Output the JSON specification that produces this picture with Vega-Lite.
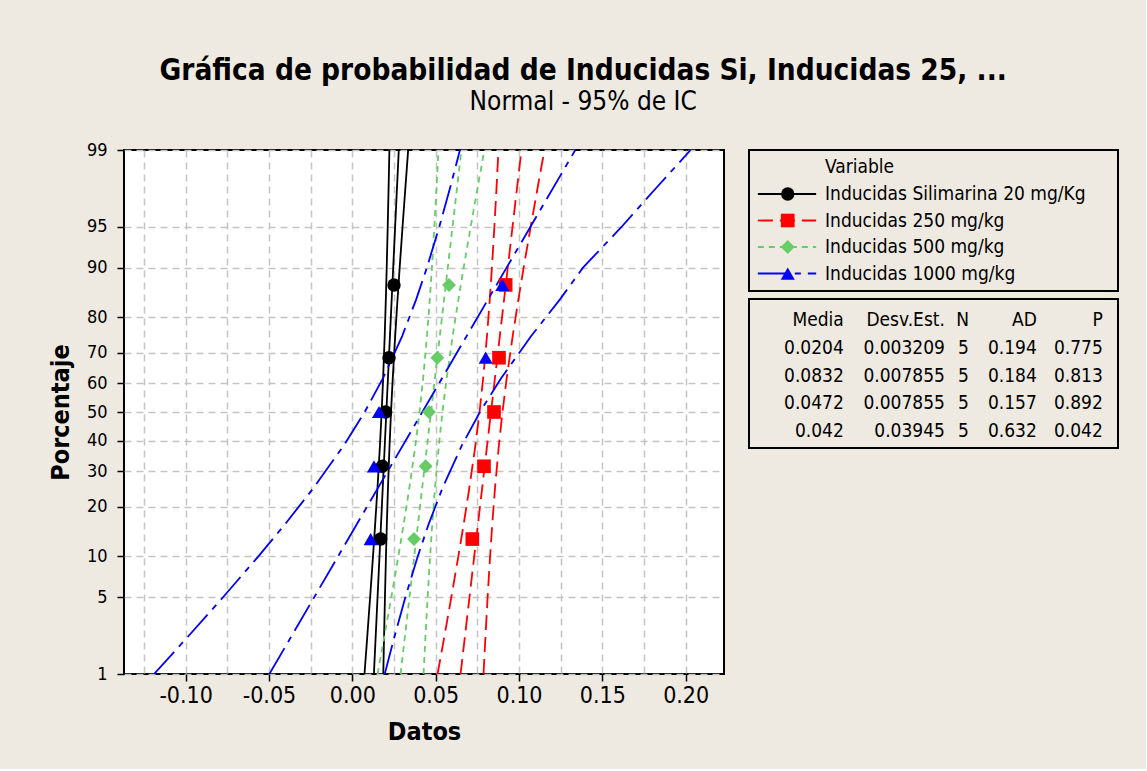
{
  "$schema": "https://vega.github.io/schema/vega-lite/v6.json",
  "background": "#EEEAE1",
  "padding": {"left": 47, "top": 55, "right": 27, "bottom": 24},
  "bounds": "flush",
  "title": {
    "text": "Gráfica de probabilidad de Inducidas Si, Inducidas 25, ...",
    "subtitle": "Normal - 95% de IC",
    "anchor": "middle",
    "frame": "bounds",
    "font": "DejaVu Sans Condensed",
    "fontSize": 29.5,
    "fontWeight": "bold",
    "color": "black",
    "subtitleFont": "DejaVu Sans Condensed",
    "subtitleFontSize": 26,
    "subtitleColor": "black",
    "subtitlePadding": 3,
    "offset": 24
  },
  "datasets": {
    "points": [
      {"series": "Inducidas Silimarina 20 mg/Kg", "z": -1.1281, "x": 0.017},
      {"series": "Inducidas Silimarina 20 mg/Kg", "z": -0.4819, "x": 0.018},
      {"series": "Inducidas Silimarina 20 mg/Kg", "z": 0, "x": 0.020},
      {"series": "Inducidas Silimarina 20 mg/Kg", "z": 0.4819, "x": 0.022},
      {"series": "Inducidas Silimarina 20 mg/Kg", "z": 1.1281, "x": 0.025},
      {"series": "Inducidas 250 mg/kg", "z": -1.1281, "x": 0.072},
      {"series": "Inducidas 250 mg/kg", "z": -0.4819, "x": 0.079},
      {"series": "Inducidas 250 mg/kg", "z": 0, "x": 0.085},
      {"series": "Inducidas 250 mg/kg", "z": 0.4819, "x": 0.088},
      {"series": "Inducidas 250 mg/kg", "z": 1.1281, "x": 0.092},
      {"series": "Inducidas 500 mg/kg", "z": -1.1281, "x": 0.037},
      {"series": "Inducidas 500 mg/kg", "z": -0.4819, "x": 0.044},
      {"series": "Inducidas 500 mg/kg", "z": 0, "x": 0.046},
      {"series": "Inducidas 500 mg/kg", "z": 0.4819, "x": 0.051},
      {"series": "Inducidas 500 mg/kg", "z": 1.1281, "x": 0.058},
      {"series": "Inducidas 1000 mg/kg", "z": -1.1281, "x": 0.011},
      {"series": "Inducidas 1000 mg/kg", "z": -0.4819, "x": 0.013},
      {"series": "Inducidas 1000 mg/kg", "z": 0, "x": 0.016},
      {"series": "Inducidas 1000 mg/kg", "z": 0.4819, "x": 0.080},
      {"series": "Inducidas 1000 mg/kg", "z": 1.1281, "x": 0.090}
    ],
    "lines": [
      {"series": "Inducidas Silimarina 20 mg/Kg", "bound": "fit", "z": -2.3263, "x": 0.01294},
      {"series": "Inducidas Silimarina 20 mg/Kg", "bound": "fit", "z": 2.3263, "x": 0.02787},
      {"series": "Inducidas Silimarina 20 mg/Kg", "bound": "lower", "z": -2.3263, "x": 0.00730},
      {"series": "Inducidas Silimarina 20 mg/Kg", "bound": "lower", "z": -2, "x": 0.00893},
      {"series": "Inducidas Silimarina 20 mg/Kg", "bound": "lower", "z": -1.6449, "x": 0.01067},
      {"series": "Inducidas Silimarina 20 mg/Kg", "bound": "lower", "z": -1.2816, "x": 0.01240},
      {"series": "Inducidas Silimarina 20 mg/Kg", "bound": "lower", "z": -1, "x": 0.01368},
      {"series": "Inducidas Silimarina 20 mg/Kg", "bound": "lower", "z": -0.6745, "x": 0.01509},
      {"series": "Inducidas Silimarina 20 mg/Kg", "bound": "lower", "z": -0.3, "x": 0.01656},
      {"series": "Inducidas Silimarina 20 mg/Kg", "bound": "lower", "z": 0, "x": 0.01759},
      {"series": "Inducidas Silimarina 20 mg/Kg", "bound": "lower", "z": 0.3, "x": 0.01848},
      {"series": "Inducidas Silimarina 20 mg/Kg", "bound": "lower", "z": 0.6745, "x": 0.01942},
      {"series": "Inducidas Silimarina 20 mg/Kg", "bound": "lower", "z": 1, "x": 0.02010},
      {"series": "Inducidas Silimarina 20 mg/Kg", "bound": "lower", "z": 1.2816, "x": 0.02062},
      {"series": "Inducidas Silimarina 20 mg/Kg", "bound": "lower", "z": 1.6449, "x": 0.02123},
      {"series": "Inducidas Silimarina 20 mg/Kg", "bound": "lower", "z": 2, "x": 0.02177},
      {"series": "Inducidas Silimarina 20 mg/Kg", "bound": "lower", "z": 2.3263, "x": 0.02224},
      {"series": "Inducidas Silimarina 20 mg/Kg", "bound": "upper", "z": -2.3263, "x": 0.01857},
      {"series": "Inducidas Silimarina 20 mg/Kg", "bound": "upper", "z": -2, "x": 0.01903},
      {"series": "Inducidas Silimarina 20 mg/Kg", "bound": "upper", "z": -1.6449, "x": 0.01957},
      {"series": "Inducidas Silimarina 20 mg/Kg", "bound": "upper", "z": -1.2816, "x": 0.02018},
      {"series": "Inducidas Silimarina 20 mg/Kg", "bound": "upper", "z": -1, "x": 0.02070},
      {"series": "Inducidas Silimarina 20 mg/Kg", "bound": "upper", "z": -0.6745, "x": 0.02138},
      {"series": "Inducidas Silimarina 20 mg/Kg", "bound": "upper", "z": -0.3, "x": 0.02232},
      {"series": "Inducidas Silimarina 20 mg/Kg", "bound": "upper", "z": 0, "x": 0.02321},
      {"series": "Inducidas Silimarina 20 mg/Kg", "bound": "upper", "z": 0.3, "x": 0.02425},
      {"series": "Inducidas Silimarina 20 mg/Kg", "bound": "upper", "z": 0.6745, "x": 0.02571},
      {"series": "Inducidas Silimarina 20 mg/Kg", "bound": "upper", "z": 1, "x": 0.02712},
      {"series": "Inducidas Silimarina 20 mg/Kg", "bound": "upper", "z": 1.2816, "x": 0.02840},
      {"series": "Inducidas Silimarina 20 mg/Kg", "bound": "upper", "z": 1.6449, "x": 0.03013},
      {"series": "Inducidas Silimarina 20 mg/Kg", "bound": "upper", "z": 2, "x": 0.03187},
      {"series": "Inducidas Silimarina 20 mg/Kg", "bound": "upper", "z": 2.3263, "x": 0.03350},
      {"series": "Inducidas 250 mg/kg", "bound": "fit", "z": -2.3263, "x": 0.06493},
      {"series": "Inducidas 250 mg/kg", "bound": "fit", "z": 2.3263, "x": 0.10147},
      {"series": "Inducidas 250 mg/kg", "bound": "lower", "z": -2.3263, "x": 0.05115},
      {"series": "Inducidas 250 mg/kg", "bound": "lower", "z": -2, "x": 0.05513},
      {"series": "Inducidas 250 mg/kg", "bound": "lower", "z": -1.6449, "x": 0.05939},
      {"series": "Inducidas 250 mg/kg", "bound": "lower", "z": -1.2816, "x": 0.06361},
      {"series": "Inducidas 250 mg/kg", "bound": "lower", "z": -1, "x": 0.06676},
      {"series": "Inducidas 250 mg/kg", "bound": "lower", "z": -0.6745, "x": 0.07020},
      {"series": "Inducidas 250 mg/kg", "bound": "lower", "z": -0.3, "x": 0.07379},
      {"series": "Inducidas 250 mg/kg", "bound": "lower", "z": 0, "x": 0.07632},
      {"series": "Inducidas 250 mg/kg", "bound": "lower", "z": 0.3, "x": 0.07850},
      {"series": "Inducidas 250 mg/kg", "bound": "lower", "z": 0.6745, "x": 0.08079},
      {"series": "Inducidas 250 mg/kg", "bound": "lower", "z": 1, "x": 0.08247},
      {"series": "Inducidas 250 mg/kg", "bound": "lower", "z": 1.2816, "x": 0.08375},
      {"series": "Inducidas 250 mg/kg", "bound": "lower", "z": 1.6449, "x": 0.08523},
      {"series": "Inducidas 250 mg/kg", "bound": "lower", "z": 2, "x": 0.08655},
      {"series": "Inducidas 250 mg/kg", "bound": "lower", "z": 2.3263, "x": 0.08769},
      {"series": "Inducidas 250 mg/kg", "bound": "upper", "z": -2.3263, "x": 0.07871},
      {"series": "Inducidas 250 mg/kg", "bound": "upper", "z": -2, "x": 0.07985},
      {"series": "Inducidas 250 mg/kg", "bound": "upper", "z": -1.6449, "x": 0.08117},
      {"series": "Inducidas 250 mg/kg", "bound": "upper", "z": -1.2816, "x": 0.08266},
      {"series": "Inducidas 250 mg/kg", "bound": "upper", "z": -1, "x": 0.08393},
      {"series": "Inducidas 250 mg/kg", "bound": "upper", "z": -0.6745, "x": 0.08561},
      {"series": "Inducidas 250 mg/kg", "bound": "upper", "z": -0.3, "x": 0.08790},
      {"series": "Inducidas 250 mg/kg", "bound": "upper", "z": 0, "x": 0.09009},
      {"series": "Inducidas 250 mg/kg", "bound": "upper", "z": 0.3, "x": 0.09261},
      {"series": "Inducidas 250 mg/kg", "bound": "upper", "z": 0.6745, "x": 0.09621},
      {"series": "Inducidas 250 mg/kg", "bound": "upper", "z": 1, "x": 0.09964},
      {"series": "Inducidas 250 mg/kg", "bound": "upper", "z": 1.2816, "x": 0.10279},
      {"series": "Inducidas 250 mg/kg", "bound": "upper", "z": 1.6449, "x": 0.10701},
      {"series": "Inducidas 250 mg/kg", "bound": "upper", "z": 2, "x": 0.11127},
      {"series": "Inducidas 250 mg/kg", "bound": "upper", "z": 2.3263, "x": 0.11526},
      {"series": "Inducidas 500 mg/kg", "bound": "fit", "z": -2.3263, "x": 0.02893},
      {"series": "Inducidas 500 mg/kg", "bound": "fit", "z": 2.3263, "x": 0.06547},
      {"series": "Inducidas 500 mg/kg", "bound": "lower", "z": -2.3263, "x": 0.01515},
      {"series": "Inducidas 500 mg/kg", "bound": "lower", "z": -2, "x": 0.01913},
      {"series": "Inducidas 500 mg/kg", "bound": "lower", "z": -1.6449, "x": 0.02339},
      {"series": "Inducidas 500 mg/kg", "bound": "lower", "z": -1.2816, "x": 0.02761},
      {"series": "Inducidas 500 mg/kg", "bound": "lower", "z": -1, "x": 0.03076},
      {"series": "Inducidas 500 mg/kg", "bound": "lower", "z": -0.6745, "x": 0.03420},
      {"series": "Inducidas 500 mg/kg", "bound": "lower", "z": -0.3, "x": 0.03779},
      {"series": "Inducidas 500 mg/kg", "bound": "lower", "z": 0, "x": 0.04032},
      {"series": "Inducidas 500 mg/kg", "bound": "lower", "z": 0.3, "x": 0.04250},
      {"series": "Inducidas 500 mg/kg", "bound": "lower", "z": 0.6745, "x": 0.04479},
      {"series": "Inducidas 500 mg/kg", "bound": "lower", "z": 1, "x": 0.04647},
      {"series": "Inducidas 500 mg/kg", "bound": "lower", "z": 1.2816, "x": 0.04775},
      {"series": "Inducidas 500 mg/kg", "bound": "lower", "z": 1.6449, "x": 0.04923},
      {"series": "Inducidas 500 mg/kg", "bound": "lower", "z": 2, "x": 0.05055},
      {"series": "Inducidas 500 mg/kg", "bound": "lower", "z": 2.3263, "x": 0.05169},
      {"series": "Inducidas 500 mg/kg", "bound": "upper", "z": -2.3263, "x": 0.04271},
      {"series": "Inducidas 500 mg/kg", "bound": "upper", "z": -2, "x": 0.04385},
      {"series": "Inducidas 500 mg/kg", "bound": "upper", "z": -1.6449, "x": 0.04517},
      {"series": "Inducidas 500 mg/kg", "bound": "upper", "z": -1.2816, "x": 0.04666},
      {"series": "Inducidas 500 mg/kg", "bound": "upper", "z": -1, "x": 0.04793},
      {"series": "Inducidas 500 mg/kg", "bound": "upper", "z": -0.6745, "x": 0.04961},
      {"series": "Inducidas 500 mg/kg", "bound": "upper", "z": -0.3, "x": 0.05190},
      {"series": "Inducidas 500 mg/kg", "bound": "upper", "z": 0, "x": 0.05409},
      {"series": "Inducidas 500 mg/kg", "bound": "upper", "z": 0.3, "x": 0.05661},
      {"series": "Inducidas 500 mg/kg", "bound": "upper", "z": 0.6745, "x": 0.06021},
      {"series": "Inducidas 500 mg/kg", "bound": "upper", "z": 1, "x": 0.06364},
      {"series": "Inducidas 500 mg/kg", "bound": "upper", "z": 1.2816, "x": 0.06679},
      {"series": "Inducidas 500 mg/kg", "bound": "upper", "z": 1.6449, "x": 0.07101},
      {"series": "Inducidas 500 mg/kg", "bound": "upper", "z": 2, "x": 0.07527},
      {"series": "Inducidas 500 mg/kg", "bound": "upper", "z": 2.3263, "x": 0.07926},
      {"series": "Inducidas 1000 mg/kg", "bound": "fit", "z": -2.3263, "x": -0.04977},
      {"series": "Inducidas 1000 mg/kg", "bound": "fit", "z": 2.3263, "x": 0.13377},
      {"series": "Inducidas 1000 mg/kg", "bound": "lower", "z": -2.3263, "x": -0.11899},
      {"series": "Inducidas 1000 mg/kg", "bound": "lower", "z": -2, "x": -0.09897},
      {"series": "Inducidas 1000 mg/kg", "bound": "lower", "z": -1.6449, "x": -0.07760},
      {"series": "Inducidas 1000 mg/kg", "bound": "lower", "z": -1.2816, "x": -0.05638},
      {"series": "Inducidas 1000 mg/kg", "bound": "lower", "z": -1, "x": -0.04058},
      {"series": "Inducidas 1000 mg/kg", "bound": "lower", "z": -0.6745, "x": -0.02331},
      {"series": "Inducidas 1000 mg/kg", "bound": "lower", "z": -0.3, "x": -0.00527},
      {"series": "Inducidas 1000 mg/kg", "bound": "lower", "z": 0, "x": 0.00742},
      {"series": "Inducidas 1000 mg/kg", "bound": "lower", "z": 0.3, "x": 0.01840},
      {"series": "Inducidas 1000 mg/kg", "bound": "lower", "z": 0.6745, "x": 0.02991},
      {"series": "Inducidas 1000 mg/kg", "bound": "lower", "z": 1, "x": 0.03832},
      {"series": "Inducidas 1000 mg/kg", "bound": "lower", "z": 1.2816, "x": 0.04474},
      {"series": "Inducidas 1000 mg/kg", "bound": "lower", "z": 1.6449, "x": 0.05218},
      {"series": "Inducidas 1000 mg/kg", "bound": "lower", "z": 2, "x": 0.05883},
      {"series": "Inducidas 1000 mg/kg", "bound": "lower", "z": 2.3263, "x": 0.06456},
      {"series": "Inducidas 1000 mg/kg", "bound": "upper", "z": -2.3263, "x": 0.01944},
      {"series": "Inducidas 1000 mg/kg", "bound": "upper", "z": -2, "x": 0.02517},
      {"series": "Inducidas 1000 mg/kg", "bound": "upper", "z": -1.6449, "x": 0.03182},
      {"series": "Inducidas 1000 mg/kg", "bound": "upper", "z": -1.2816, "x": 0.03926},
      {"series": "Inducidas 1000 mg/kg", "bound": "upper", "z": -1, "x": 0.04568},
      {"series": "Inducidas 1000 mg/kg", "bound": "upper", "z": -0.6745, "x": 0.05410},
      {"series": "Inducidas 1000 mg/kg", "bound": "upper", "z": -0.3, "x": 0.06560},
      {"series": "Inducidas 1000 mg/kg", "bound": "upper", "z": 0, "x": 0.07658},
      {"series": "Inducidas 1000 mg/kg", "bound": "upper", "z": 0.3, "x": 0.08927},
      {"series": "Inducidas 1000 mg/kg", "bound": "upper", "z": 0.6745, "x": 0.10731},
      {"series": "Inducidas 1000 mg/kg", "bound": "upper", "z": 1, "x": 0.12458},
      {"series": "Inducidas 1000 mg/kg", "bound": "upper", "z": 1.2816, "x": 0.13838},
      {"series": "Inducidas 1000 mg/kg", "bound": "upper", "z": 1.6449, "x": 0.16160},
      {"series": "Inducidas 1000 mg/kg", "bound": "upper", "z": 2, "x": 0.18297},
      {"series": "Inducidas 1000 mg/kg", "bound": "upper", "z": 2.3263, "x": 0.20299}
    ],
    "legend": [
      {"entry": "Variable"},
      {"entry": "Inducidas Silimarina 20 mg/Kg", "series": "Inducidas Silimarina 20 mg/Kg"},
      {"entry": "Inducidas 250 mg/kg", "series": "Inducidas 250 mg/kg"},
      {"entry": "Inducidas 500 mg/kg", "series": "Inducidas 500 mg/kg"},
      {"entry": "Inducidas 1000 mg/kg", "series": "Inducidas 1000 mg/kg"}
    ],
    "stats": [
      {"row": "header", "Media": "Media", "DesvEst": "Desv.Est.", "N": "N", "AD": "AD", "P": "P"},
      {"row": "s1", "Media": "0.0204", "DesvEst": "0.003209", "N": "5", "AD": "0.194", "P": "0.775"},
      {"row": "s2", "Media": "0.0832", "DesvEst": "0.007855", "N": "5", "AD": "0.184", "P": "0.813"},
      {"row": "s3", "Media": "0.0472", "DesvEst": "0.007855", "N": "5", "AD": "0.157", "P": "0.892"},
      {"row": "s4", "Media": "0.042", "DesvEst": "0.03945", "N": "5", "AD": "0.632", "P": "0.042"}
    ]
  },
  "spacing": 25,
  "hconcat": [
    {
      "width": 600,
      "height": 524,
      "view": {"fill": "white", "stroke": "black", "strokeWidth": 2},
      "layer": [
        {
          "data": {"name": "lines"},
          "mark": {"type": "line", "strokeWidth": 1.8, "clip": true},
          "encoding": {
            "x": {
              "field": "x", "type": "quantitative",
              "scale": {"domain": [-0.137, 0.223], "nice": false, "zero": false},
              "axis": {
                "orient": "bottom",
                "values": [-0.125, -0.1, -0.075, -0.05, -0.025, 0, 0.025, 0.05, 0.075, 0.1, 0.125, 0.15, 0.175, 0.2],
                "grid": true, "gridColor": "#C4C4C4", "gridDash": [7, 5], "gridWidth": 1.5, "gridOpacity": 1,
                "labels": false, "ticks": false, "domain": false, "title": null
              }
            },
            "y": {
              "field": "z", "type": "quantitative",
              "scale": {"domain": [-2.3263, 2.3263], "nice": false, "zero": false},
              "axis": {
                "values": [-2.3263, -1.6449, -1.2816, -0.8416, -0.5244, -0.2533, 0, 0.2533, 0.5244, 0.8416, 1.2816, 1.6449, 2.3263],
                "labelExpr": "datum.value < -2 ? '1' : datum.value < -1.5 ? '5' : datum.value < -1 ? '10' : datum.value < -0.7 ? '20' : datum.value < -0.4 ? '30' : datum.value < -0.1 ? '40' : datum.value < 0.1 ? '50' : datum.value < 0.4 ? '60' : datum.value < 0.7 ? '70' : datum.value < 1 ? '80' : datum.value < 1.5 ? '90' : datum.value < 2 ? '95' : '99'",
                "grid": true, "gridColor": "#C4C4C4", "gridDash": [7, 5], "gridWidth": 1.5, "gridOpacity": 1,
                "domain": false, "ticks": true, "tickSize": 7, "tickWidth": 1.5, "tickColor": "black",
                "labelFontSize": 18, "labelColor": "black", "labelPadding": 10,
                "title": "Porcentaje", "titleFontSize": 25, "titleFontWeight": "bold", "titleColor": "black", "titlePadding": 13
              }
            },
            "color": {
              "field": "series", "type": "nominal",
              "scale": {"domain": ["Inducidas Silimarina 20 mg/Kg", "Inducidas 250 mg/kg", "Inducidas 500 mg/kg", "Inducidas 1000 mg/kg"], "range": ["#000000", "#FF0000", "#66CC66", "#0000FF"]},
              "legend": null
            },
            "strokeDash": {
              "field": "series", "type": "nominal",
              "scale": {"domain": ["Inducidas Silimarina 20 mg/Kg", "Inducidas 250 mg/kg", "Inducidas 500 mg/kg", "Inducidas 1000 mg/kg"], "range": [[1, 0], [15, 7], [6, 5], [30, 7, 6, 7]]},
              "legend": null
            },
            "detail": {"field": "bound", "type": "nominal"},
            "order": {"field": "z", "type": "quantitative"}
          }
        },
        {
          "data": {"name": "points"},
          "mark": {"type": "point", "filled": true, "opacity": 1},
          "encoding": {
            "x": {
              "field": "x", "type": "quantitative",
              "axis": {
                "orient": "bottom",
                "values": [-0.1, -0.05, 0, 0.05, 0.1, 0.15, 0.2],
                "format": ".2f",
                "labelExpr": "replace(datum.label, '−', '-')",
                "grid": false, "domain": false, "ticks": true, "tickSize": 7, "tickWidth": 1.5, "tickColor": "black",
                "labelFontSize": 23, "labelColor": "black", "labelPadding": 3,
                "title": "Datos", "titleFontSize": 25, "titleFontWeight": "bold", "titleColor": "black", "titlePadding": 12
              }
            },
            "y": {"field": "z", "type": "quantitative"},
            "color": {"field": "series", "type": "nominal", "legend": null},
            "shape": {
              "field": "series", "type": "nominal",
              "scale": {"domain": ["Inducidas Silimarina 20 mg/Kg", "Inducidas 250 mg/kg", "Inducidas 500 mg/kg", "Inducidas 1000 mg/kg"], "range": ["circle", "square", "diamond", "triangle-up"]},
              "legend": null
            },
            "size": {
              "field": "series", "type": "nominal",
              "scale": {"domain": ["Inducidas Silimarina 20 mg/Kg", "Inducidas 250 mg/kg", "Inducidas 500 mg/kg", "Inducidas 1000 mg/kg"], "range": [180, 200, 360, 330]},
              "legend": null
            }
          }
        }
      ],
      "resolve": {"axis": {"x": "independent"}}
    },
    {
      "spacing": 6,
      "vconcat": [
        {
          "width": 369,
          "height": 141,
          "view": {"stroke": "black", "strokeWidth": 2},
          "data": {"name": "legend"},
          "encoding": {
            "y": {"field": "entry", "type": "nominal", "scale": {"type": "point", "padding": 0.66, "domain": ["Variable", "Inducidas Silimarina 20 mg/Kg", "Inducidas 250 mg/kg", "Inducidas 500 mg/kg", "Inducidas 1000 mg/kg"]}, "axis": null}
          },
          "layer": [
            {
              "transform": [{"filter": "datum.series != null"}],
              "mark": {"type": "rule", "strokeWidth": 1.8},
              "encoding": {
                "x": {"datum": 2.4, "type": "quantitative", "scale": {"domain": [0, 100], "nice": false, "zero": false}, "axis": null},
                "x2": {"datum": 18.2},
                "color": {
                  "field": "series", "type": "nominal",
                  "scale": {"domain": ["Inducidas Silimarina 20 mg/Kg", "Inducidas 250 mg/kg", "Inducidas 500 mg/kg", "Inducidas 1000 mg/kg"], "range": ["#000000", "#FF0000", "#66CC66", "#0000FF"]},
                  "legend": null
                },
                "strokeDash": {
                  "field": "series", "type": "nominal",
                  "scale": {"domain": ["Inducidas Silimarina 20 mg/Kg", "Inducidas 250 mg/kg", "Inducidas 500 mg/kg", "Inducidas 1000 mg/kg"], "range": [[1, 0], [15, 7], [6, 5], [30, 7, 6, 7]]},
                  "legend": null
                }
              }
            },
            {
              "transform": [{"filter": "datum.series != null"}],
              "mark": {"type": "point", "filled": true, "opacity": 1},
              "encoding": {
                "x": {"datum": 10.5, "type": "quantitative"},
                "color": {"field": "series", "type": "nominal", "legend": null},
                "shape": {
                  "field": "series", "type": "nominal",
                  "scale": {"domain": ["Inducidas Silimarina 20 mg/Kg", "Inducidas 250 mg/kg", "Inducidas 500 mg/kg", "Inducidas 1000 mg/kg"], "range": ["circle", "square", "diamond", "triangle-up"]},
                  "legend": null
                },
                "size": {
                  "field": "series", "type": "nominal",
                  "scale": {"domain": ["Inducidas Silimarina 20 mg/Kg", "Inducidas 250 mg/kg", "Inducidas 500 mg/kg", "Inducidas 1000 mg/kg"], "range": [180, 200, 360, 330]},
                  "legend": null
                }
              }
            },
            {
              "mark": {"type": "text", "align": "left", "baseline": "middle", "fontSize": 19, "color": "black"},
              "encoding": {
                "x": {"datum": 20.6, "type": "quantitative"},
                "text": {"field": "entry"}
              }
            }
          ]
        },
        {
          "width": 369,
          "height": 149,
          "view": {"stroke": "black", "strokeWidth": 2},
          "data": {"name": "stats"},
          "encoding": {
            "y": {"field": "row", "type": "nominal", "scale": {"type": "point", "padding": 0.685, "domain": ["header", "s1", "s2", "s3", "s4"]}, "axis": null}
          },
          "layer": [
            {
              "mark": {"type": "text", "align": "right", "baseline": "middle", "fontSize": 19, "color": "black", "dy": 2},
              "encoding": {"x": {"datum": 25.7, "type": "quantitative", "scale": {"domain": [0, 100], "nice": false, "zero": false}, "axis": null}, "text": {"field": "Media"}}
            },
            {
              "mark": {"type": "text", "align": "right", "baseline": "middle", "fontSize": 19, "color": "black", "dy": 2},
              "encoding": {"x": {"datum": 53.1, "type": "quantitative"}, "text": {"field": "DesvEst"}}
            },
            {
              "mark": {"type": "text", "align": "right", "baseline": "middle", "fontSize": 19, "color": "black", "dy": 2},
              "encoding": {"x": {"datum": 59.6, "type": "quantitative"}, "text": {"field": "N"}}
            },
            {
              "mark": {"type": "text", "align": "right", "baseline": "middle", "fontSize": 19, "color": "black", "dy": 2},
              "encoding": {"x": {"datum": 78.0, "type": "quantitative"}, "text": {"field": "AD"}}
            },
            {
              "mark": {"type": "text", "align": "right", "baseline": "middle", "fontSize": 19, "color": "black", "dy": 2},
              "encoding": {"x": {"datum": 95.9, "type": "quantitative"}, "text": {"field": "P"}}
            }
          ]
        }
      ]
    }
  ],
  "config": {
    "font": "DejaVu Sans Condensed",
    "axis": {"labelFont": "DejaVu Sans Condensed", "titleFont": "DejaVu Sans Condensed"},
    "text": {"font": "DejaVu Sans Condensed"}
  }
}
